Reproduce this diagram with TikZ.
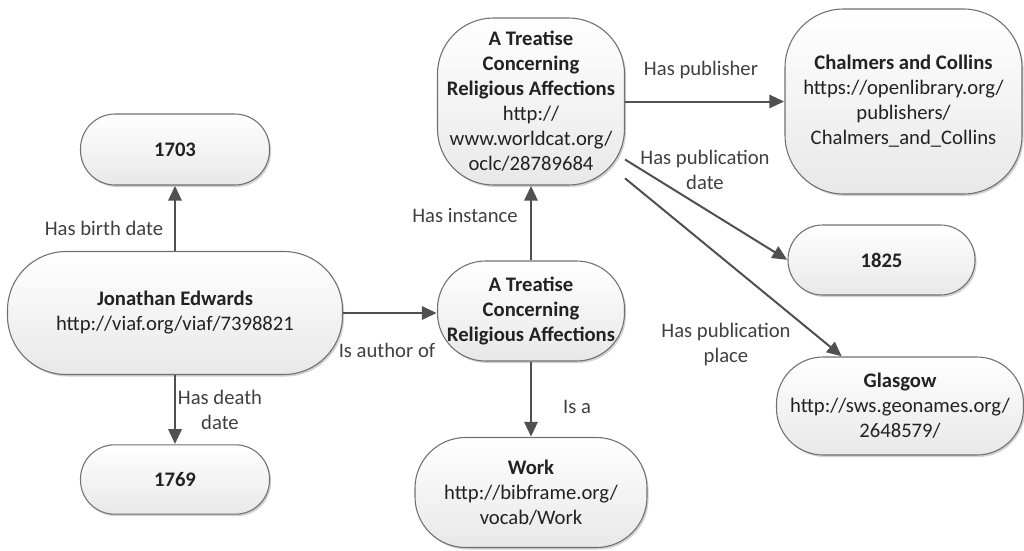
\documentclass[tikz,border=0pt]{standalone}
\usepackage{fontspec}
\setmainfont{Carlito}
\usetikzlibrary{arrows.meta,shadows}
\definecolor{edgecol}{HTML}{505050}
\definecolor{bordercol}{HTML}{707070}
\definecolor{txtcol}{HTML}{222222}
\definecolor{lblcol}{HTML}{404040}
\newcommand{\diafont}{\fontsize{15.5}{18.75}\selectfont}
\begin{document}
\begin{tikzpicture}[x=0.75pt,y=-0.75pt,
  ent/.style={draw=bordercol, line width=0.8pt, top color=white, bottom color=black!9,
    text=txtcol, align=center, font=\diafont, inner sep=0pt,
    drop shadow={shadow xshift=1.2pt, shadow yshift=-1.5pt, opacity=0.18, fill=black}},
  lbl/.style={text=lblcol, align=center, font=\diafont, inner sep=0pt},
  arr/.style={draw=edgecol, line width=1.5pt, -{Triangle[length=11pt,width=10pt]}, shorten >=0.3pt}
]
\useasboundingbox (0,0) rectangle (1024,550);

% nodes
\node[ent, minimum width=141.75pt, minimum height=53.25pt, rounded corners=26pt] (n1703) at (175,149.5) {\textbf{1703}};
\node[ent, minimum width=251.25pt, minimum height=92.25pt, rounded corners=44pt] (je) at (175,313) {\textbf{Jonathan Edwards}\\http://viaf.org/viaf/7398821};
\node[ent, minimum width=141.75pt, minimum height=52pt, rounded corners=25.5pt] (n1769) at (175,479.5) {\textbf{1769}};
\node[ent, minimum width=140.25pt, minimum height=75pt, rounded corners=36pt] (tw) at (531,311) {\textbf{A Treatise}\\\textbf{Concerning}\\\textbf{Religious Affections}};
\node[ent, minimum width=140.25pt, minimum height=125.25pt, rounded corners=42pt] (ti) at (531,101.5) {\textbf{A Treatise}\\\textbf{Concerning}\\\textbf{Religious Affections}\\http://\\www.worldcat.org/\\oclc/28789684};
\node[ent, minimum width=174pt, minimum height=82.5pt, rounded corners=38pt] (work) at (531,492.5) {\textbf{Work}\\http://bibframe.org/\\vocab/Work};
\node[ent, minimum width=177.75pt, minimum height=138.75pt, rounded corners=44pt] (chal) at (903.5,101.5) {\textbf{Chalmers and Collins}\\https://openlibrary.org/\\publishers/\\Chalmers\_and\_Collins};
\node[ent, minimum width=140.25pt, minimum height=52.5pt, rounded corners=26pt] (d1825) at (881.5,260) {\textbf{1825}};
\node[ent, minimum width=185.25pt, minimum height=73.5pt, rounded corners=35pt] (glas) at (900,406) {\textbf{Glasgow}\\http://sws.geonames.org/\\2648579/};
\coordinate (glastop) at ([xshift=-43.5pt]glas.north);

% connectors
\draw[arr] (je.north) -- (n1703.south);
\draw[arr] (je.south) -- (n1769.north);
\draw[arr] (je.east) -- (je.east -| tw.west);
\draw[arr] (tw.north) -- (ti.south);
\draw[arr] (tw.south) -- (work.north);
\draw[arr] (ti.east) -- (ti.east -| chal.west);
\draw[arr] (ti) -- (d1825.west);
\draw[arr] (ti) -- (glastop);

% labels
\node[lbl] (lbirth) at (104,228) {Has birth date};
\node[lbl] (ldeath) at (220,410) {Has death\\date};
\node[lbl] (lauthor) at (387,350) {Is author of};
\node[lbl] (linst) at (465,215) {Has instance};
\node[lbl] (lisa) at (577,407) {Is a};
\node[lbl] (lpub) at (701,70) {Has publisher};
\node[lbl] (lpdate) at (705,170) {Has publication\\date};
\node[lbl] (lpplace) at (726,344) {Has publication\\place};
\end{tikzpicture}
\end{document}
